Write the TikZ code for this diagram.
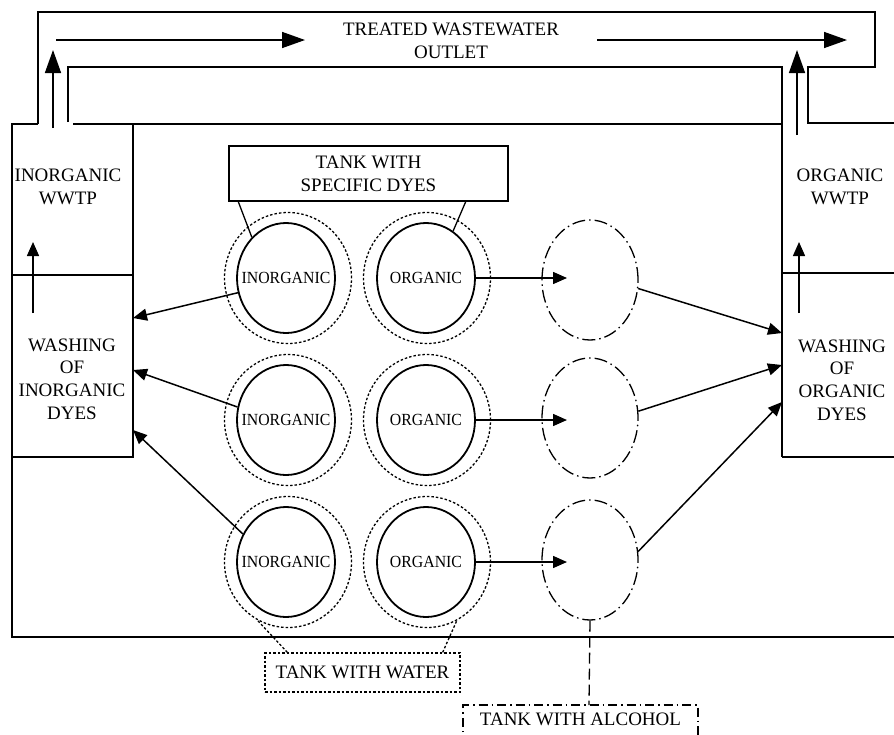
\documentclass[tikz,border=0pt]{standalone}
\usepackage{fontspec}
\setmainfont{Liberation Serif}
\newfontfamily\tankfont{Liberation Serif}[FakeStretch=0.93]
\usetikzlibrary{shapes.geometric,arrows.meta,calc}
\begin{document}
\begin{tikzpicture}[x=1pt,y=-1pt,
  frame/.style={line width=1.4pt},
  arr/.style={line width=1.5pt,-{Triangle[length=14pt,width=12pt]}},
  bigarr/.style={line width=1.5pt,-{Triangle[length=23pt,width=16pt]}},
  lbl/.style={align=center,font=\fontsize{19}{22.7}\selectfont,inner sep=0pt},
  tank/.style={ellipse,draw,line width=1.8pt,minimum width=98pt,minimum height=110pt,inner sep=0pt,
    label={[font=\tankfont\fontsize{17}{19}\selectfont,inner sep=0pt]center:#1}},
  water/.style={ellipse,draw,line width=1.3pt,dash pattern=on 2.5pt off 2pt,minimum width=127pt,minimum height=131pt,inner sep=0pt},
  alc/.style={ellipse,draw,line width=1.3pt,dash pattern=on 13pt off 4pt on 1.5pt off 4pt,minimum width=96pt,minimum height=120pt,inner sep=0pt},
  dotline/.style={line width=1.3pt,dash pattern=on 2.5pt off 2pt},
  alcline/.style={line width=1.3pt,dash pattern=on 9pt off 4pt on 1.5pt off 4pt},
  vdash/.style={line width=1.3pt,dash pattern=on 11pt off 5pt}
]
\useasboundingbox (0,0) rectangle (894,734);
\fill[white] (0,0) rectangle (894,734);
\clip (0,0) rectangle (894,734);

% ---- outlet channel and frame ----
\draw[frame] (38,124) -- (38,12) -- (875,12) -- (875,67) -- (808,67) -- (808,123) -- (900,123);
\draw[frame] (68,122) -- (68,67) -- (782,67) -- (782,457);
\draw[frame] (73,124) -- (782,124);
\draw[frame] (38,124) -- (12,124) -- (12,637) -- (900,637);
\draw[frame] (133,124) -- (133,457) -- (12,457);
\draw[frame] (12,275) -- (133,275);
\draw[frame] (782,273) -- (900,273);
\draw[frame] (782,457) -- (900,457);

% ---- title and outlet arrows ----
\node[lbl] (title) at (451,40.5) {TREATED WASTEWATER\\OUTLET};
\coordinate (tl0) at (56,40);  \coordinate (tl1) at (305,40);
\coordinate (tr0) at (597,40); \coordinate (tr1) at (847,40);
\coordinate (cl0) at (53,128); \coordinate (cl1) at (53,50);
\coordinate (cr0) at (797,135); \coordinate (cr1) at (797,50);
\draw[bigarr] (tl0) -- (tl1);
\draw[bigarr] (tr0) -- (tr1);
\draw[bigarr] (cl0) -- (cl1);
\draw[bigarr] (cr0) -- (cr1);

% ---- side labels ----
\node[lbl] (iwwtp) at (68,187) {INORGANIC\\WWTP};
\node[lbl] (owwtp) at (840,187) {ORGANIC\\WWTP};
\node[lbl] (washi) at (72,379) {WASHING\\OF\\INORGANIC\\DYES};
\node[lbl] (washo) at (842,380) {WASHING\\OF\\ORGANIC\\DYES};
\coordinate (wl0) at (33,313); \coordinate (wl1) at (33,242);
\coordinate (wr0) at (799,313); \coordinate (wr1) at (799,242);
\draw[arr] (wl0) -- (wl1);
\draw[arr] (wr0) -- (wr1);

% ---- tanks ----
\foreach \n/\y in {1/278,2/420,3/562}{
  \node[water] (wi\n) at (288,\y) {};
  \node[water] (wo\n) at (427,\y) {};
  \node[tank=INORGANIC] (i\n) at (286,\y) {};
  \node[tank=ORGANIC] (o\n) at (426,\y) {};
}
\node[alc] (a1) at (590,280) {};
\node[alc] (a2) at (590,418) {};
\node[alc] (a3) at (590,560) {};

% ---- connectors ----
\coordinate (wiA) at (133,318);
\coordinate (wiB) at (133,370);
\coordinate (wiC) at (133,430);
\coordinate (woA) at (782,333);
\coordinate (woB) at (782,365);
\coordinate (woC) at (782,402);
\coordinate (t1) at (567,278);
\coordinate (t2) at (567,420);
\coordinate (t3) at (567,562);
\draw[arr] (i1.197) -- (wiA);
\draw[arr] (i2.165) -- (wiB);
\draw[arr] (i3.147) -- (wiC);
\draw[arr] (o1.east) -- (t1);
\draw[arr] (o2.east) -- (t2);
\draw[arr] (o3.east) -- (t3);
\draw[arr] (a1.-10) -- (woA);
\draw[arr] (a2.8) -- (woB);
\draw[arr] (a3.10) -- (woC);

% ---- tank with specific dyes ----
\node[lbl,draw,frame,minimum width=279pt,minimum height=55pt] (spec) at (368.5,173.5) {TANK WITH\\SPECIFIC DYES};
\draw[line width=1.3pt] ($(spec.south west)+(10,0)$) -- (i1.130);
\draw[line width=1.3pt] ($(spec.south east)+(-43,0)$) -- (o1.60);

% ---- tank with water ----
\node[lbl,draw,dotline,minimum width=195pt,minimum height=39pt] (wbox) at (362.5,672.5) {TANK WITH WATER};
\draw[dotline] ($(wbox.north west)+(23,0)$) -- (wi3.242);
\draw[dotline] ($(wbox.north east)+(-18,0)$) -- (wo3.297);

% ---- tank with alcohol ----
\node[lbl] (abox) at (580.5,719.5) {TANK WITH ALCOHOL};
\coordinate (ab) at (589,705);
\draw[alcline] (463,745) -- (463,705) -- (698,705) -- (698,745);
\draw[vdash] (a3.south) -- (ab);
\end{tikzpicture}
\end{document}
